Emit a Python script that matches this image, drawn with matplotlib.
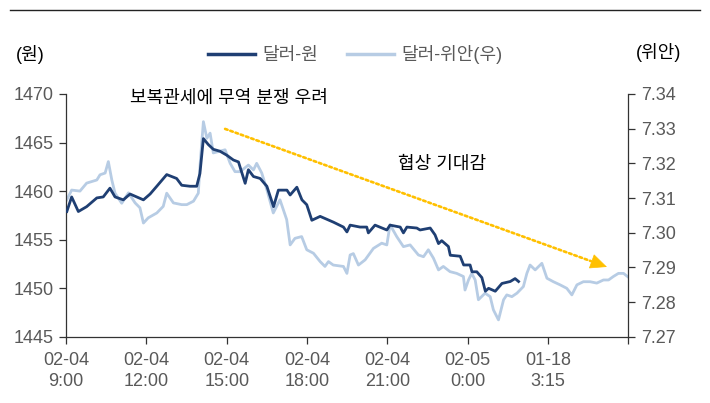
#!/usr/bin/env python3
"""USD/KRW vs USD/CNY intraday, 02-04 ~ 02-05."""

import matplotlib
matplotlib.use("Agg")
import matplotlib.pyplot as plt
from matplotlib.lines import Line2D

plt.rcParams['font.family'] = ['Liberation Sans', 'Noto Sans CJK KR', 'DejaVu Sans']

# hours since 02-04 9:00
krw_hours = [0.03, 0.21, 0.46, 0.77, 1.15, 1.39, 1.64, 1.83, 2.14, 2.39, 2.89, 3.14,
             3.39, 3.76, 4.13, 4.32, 4.63, 4.88, 5.0, 5.13, 5.31, 5.50, 5.75, 6.00,
             6.25, 6.44, 6.69, 6.81, 7.0, 7.25, 7.50, 7.75, 7.93, 8.25, 8.37, 8.62,
             8.81, 8.99, 9.18, 9.49, 9.74, 9.99, 10.36, 10.49, 10.61, 10.98, 11.23,
             11.29, 11.54, 11.98, 12.10, 12.48, 12.60, 12.73, 13.10, 13.22, 13.60,
             13.78, 13.91, 14.03, 14.28, 14.35, 14.72, 14.85, 15.09, 15.16, 15.34,
             15.53, 15.66, 15.78, 16.03, 16.28, 16.59, 16.77, 16.90]
krw = [1457.9, 1459.4, 1457.9, 1458.4, 1459.3, 1459.4, 1460.3, 1459.4, 1459.1, 1459.7,
       1459.1, 1459.7, 1460.5, 1461.7, 1461.3, 1460.6, 1460.5, 1460.5, 1461.8, 1465.4,
       1464.8, 1464.3, 1464.1, 1463.7, 1463.2, 1463.0, 1460.8, 1462.2, 1461.5, 1461.3,
       1460.5, 1458.4, 1460.1, 1460.1, 1459.6, 1460.4, 1459.1, 1458.6, 1457.0, 1457.4,
       1457.1, 1456.8, 1456.3, 1455.8, 1456.5, 1456.3, 1456.3, 1455.7, 1456.5, 1456.0,
       1456.5, 1456.3, 1455.7, 1456.3, 1456.2, 1456.0, 1456.2, 1455.5, 1454.6, 1454.9,
       1454.3, 1453.4, 1453.3, 1452.4, 1452.4, 1451.7, 1451.7, 1451.1, 1449.7, 1450.0,
       1449.7, 1450.5, 1450.7, 1451.0, 1450.7]

cny_hours = [0.03, 0.21, 0.52, 0.77, 1.15, 1.27, 1.46, 1.58, 1.71, 1.83, 2.08, 2.33,
             2.58, 2.76, 2.89, 3.07, 3.39, 3.63, 3.76, 4.01, 4.32, 4.51, 4.76, 4.94,
             5.01, 5.13, 5.26, 5.38, 5.50, 5.75, 5.94, 6.13, 6.31, 6.50, 6.81, 7.00,
             7.12, 7.31, 7.50, 7.74, 7.99, 8.24, 8.37, 8.55, 8.80, 8.99, 9.24, 9.49,
             9.67, 9.80, 9.98, 10.36, 10.49, 10.61, 10.73, 10.92, 11.17, 11.48, 11.79,
             11.98, 12.10, 12.35, 12.60, 12.85, 13.16, 13.35, 13.53, 13.72, 13.91,
             14.09, 14.34, 14.59, 14.84, 14.90, 15.03, 15.15, 15.28, 15.40, 15.65,
             15.84, 15.96, 16.15, 16.34, 16.46, 16.65, 16.84, 17.08, 17.21, 17.33,
             17.52, 17.77, 17.96, 18.20, 18.45, 18.70, 18.89, 19.08, 19.32, 19.57,
             19.82, 20.07, 20.26, 20.44, 20.63, 20.82, 21.00]
cny = [7.3095, 7.3123, 7.3120, 7.3143, 7.3152, 7.3167, 7.3172, 7.3205, 7.3152, 7.3114,
       7.3085, 7.3115, 7.3086, 7.3072, 7.3028, 7.3043, 7.3057, 7.3076, 7.3114, 7.3086,
       7.3081, 7.3081, 7.3091, 7.3114, 7.3200, 7.3320, 7.3272, 7.3287, 7.3230, 7.3235,
       7.3239, 7.3200, 7.3176, 7.3176, 7.3195, 7.3181, 7.3200, 7.3172, 7.3124, 7.3057,
       7.3095, 7.3038, 7.2965, 7.2984, 7.2989, 7.2951, 7.2941, 7.2917, 7.2903, 7.2917,
       7.2907, 7.2903, 7.2883, 7.2936, 7.2940, 7.2907, 7.2922, 7.2955, 7.2970, 7.2965,
       7.3023, 7.2989, 7.2960, 7.2965, 7.2936, 7.2931, 7.2951, 7.2927, 7.2893, 7.2903,
       7.2888, 7.2883, 7.2874, 7.2835, 7.2864, 7.2883, 7.2864, 7.2807, 7.2826, 7.2816,
       7.2778, 7.2749, 7.2807, 7.2821, 7.2816, 7.2826, 7.2845, 7.2883, 7.2907, 7.2893,
       7.2912, 7.2869, 7.2859, 7.2850, 7.2840, 7.2821, 7.2850, 7.2859, 7.2859, 7.2855,
       7.2864, 7.2864, 7.2874, 7.2883, 7.2883, 7.2872]

tick_hours = [0, 3, 6, 9, 12, 15, 18, 21]
tick_labels = ['02-04\n9:00', '02-04\n12:00', '02-04\n15:00', '02-04\n18:00',
               '02-04\n21:00', '02-05\n0:00', '01-18\n3:15', '']
krw_ticks = [1445, 1450, 1455, 1460, 1465, 1470]
cny_ticks = [7.27, 7.28, 7.29, 7.30, 7.31, 7.32, 7.33, 7.34]

NAVY = '#1f3f73'
LIGHT = '#b7cce4'
GRAY = '#595959'
SPINE = '#333333'
ORANGE = '#ffc000'

fig = plt.figure(figsize=(7.1, 4.03), dpi=100)
ax = fig.add_axes([0.093, 0.164, 0.792, 0.603])
ax2 = ax.twinx()

ax.plot(krw_hours, krw, color=NAVY, lw=2.0, zorder=3)
ax2.plot(cny_hours, cny, color=LIGHT, lw=2.0, zorder=2)
ax.set_zorder(ax2.get_zorder() + 1)
ax.patch.set_visible(False)

ax.set_xlim(0, 21)
ax.set_ylim(1445, 1470)
ax2.set_ylim(7.27, 7.34)
ax.set_xticks(tick_hours)
ax.set_xticklabels(tick_labels)
ax.set_yticks(krw_ticks)
ax2.set_yticks(cny_ticks)
ax2.set_yticklabels([f'{v:.2f}' for v in cny_ticks])

for a in (ax, ax2):
    a.spines['top'].set_visible(False)
    for s in a.spines.values():
        s.set_color(SPINE)
        s.set_linewidth(0.9)
    a.tick_params(colors=SPINE, labelcolor=GRAY, labelsize=13, length=5, width=0.9)
ax.spines['right'].set_visible(False)
ax2.spines['left'].set_visible(False)
ax2.spines['bottom'].set_visible(False)
ax.tick_params(axis='x', pad=6)
ax.tick_params(axis='y', pad=4)
ax2.tick_params(axis='y', pad=4)
for lbl in ax.get_xticklabels():
    lbl.set_linespacing(1.3)

# annotations
ax.text(6.09, 1469.5, '보복관세에 무역 분쟁 우려', ha='center', va='center',
        fontsize=13, color='black')
ax.text(14.03, 1462.7, '협상 기대감', ha='center', va='center',
        fontsize=13, color='black')
arrow_start = (5.94, 1466.4)
arrow_end = (20.2, 1452.2)
head_base = (19.6, 1452.8)
ax.annotate('', xy=head_base, xytext=arrow_start,
            arrowprops=dict(arrowstyle='-', color=ORANGE, lw=1.9,
                            linestyle=(0, (1, 1.1)), shrinkA=0, shrinkB=0))
ax.annotate('', xy=arrow_end, xytext=head_base,
            arrowprops=dict(arrowstyle='-|>,head_length=1.1,head_width=0.5',
                            color=ORANGE, lw=0.5, shrinkA=0, shrinkB=0))

# units + legend
fig.text(0.042, 0.865, '(원)', ha='center', va='center', fontsize=13, color='black')
fig.text(0.927, 0.87, '(위안)', ha='center', va='center', fontsize=13, color='black')
handles = [Line2D([], [], color=NAVY, lw=2.5), Line2D([], [], color=LIGHT, lw=2.5)]
fig.legend(handles, ['달러-원', '달러-위안(우)'], loc='center', bbox_to_anchor=(0.5, 0.865),
           ncol=2, frameon=False, fontsize=13, labelcolor=GRAY, handlelength=2.6,
           handletextpad=0.4, columnspacing=1.6)

# rule at the top
fig.add_artist(Line2D([0.014, 0.986], [0.975, 0.975], color='#222222', lw=1.0))

fig.savefig('out.png', dpi=100)
